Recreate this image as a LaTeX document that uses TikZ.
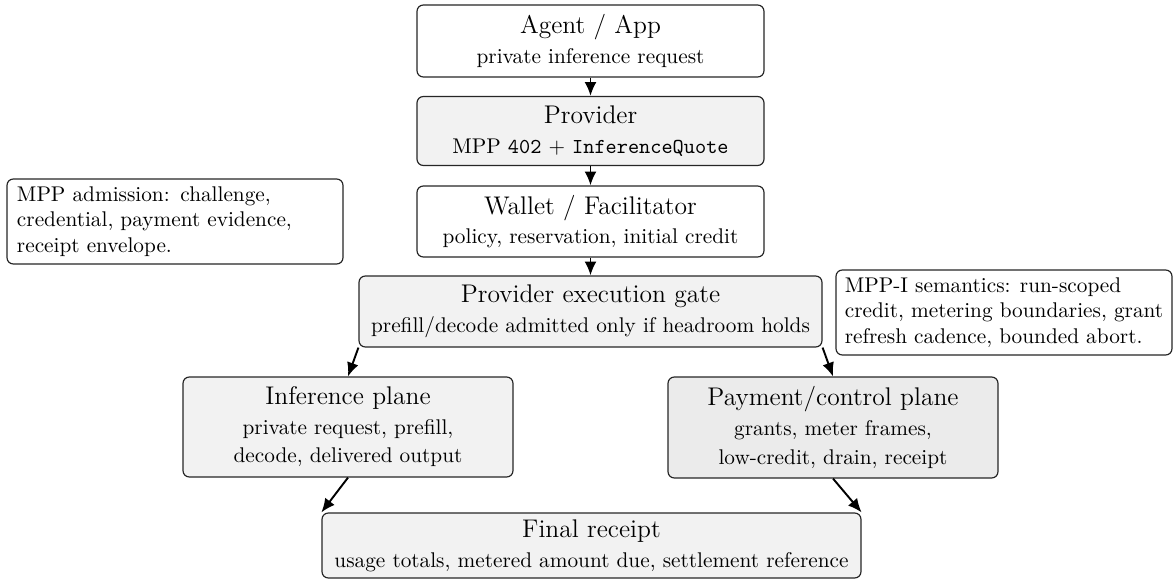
\documentclass[tikz,border=0pt]{standalone}
\usetikzlibrary{arrows.meta,calc}
\def\U{0.47pt}
\newcommand\ttl[1]{{\fontsize{12}{14}\selectfont #1}\\[2pt]}
\begin{document}
\begin{tikzpicture}[x=\U,y=-\U,
  box/.style={draw=black!85, line width=0.55pt, rounded corners=3pt, inner sep=0pt,
    align=center, font=\fontsize{10}{12}\selectfont},
  soft/.style={box, fill=black!5},
  softer/.style={box, fill=black!8},
  plain/.style={box, fill=white},
  note/.style={box, fill=white, align=left},
  flow/.style={-{Latex[length=6.5pt,width=5.6pt]}, line width=0.9pt},
]
\useasboundingbox (0,0) rectangle (1174,581);

% main chain
\node[plain, minimum width=347*\U, minimum height=72*\U] (agent) at (590.5,41)
  {\ttl{Agent / App}private inference request};
\node[soft, minimum width=347*\U, minimum height=69*\U] (provider) at (590.5,131)
  {\ttl{Provider}MPP \texttt{402} $+$ \texttt{InferenceQuote}};
\node[plain, minimum width=347*\U, minimum height=71*\U] (wallet) at (590.5,221.5)
  {\ttl{Wallet / Facilitator}policy, reservation, initial credit};
\node[soft, minimum width=463*\U, minimum height=71*\U] (gate) at (590.5,311.5)
  {\ttl{Provider execution gate}prefill/decode admitted only if headroom holds};

% the two planes
\node[soft, minimum width=330*\U, minimum height=100*\U] (inf) at (348,427)
  {\ttl{Inference plane}private request, prefill,\\[1.3pt]decode, delivered output};
\node[softer, minimum width=330*\U, minimum height=101*\U] (pay) at (833,427.5)
  {\ttl{Payment/control plane}grants, meter frames,\\[1.3pt]low-credit, drain, receipt};

\node[soft, minimum width=539*\U, minimum height=65*\U] (final) at (591.5,545.5)
  {\ttl{Final receipt}usage totals, metered amount due, settlement reference};

% side notes
\node[note, text width=316*\U, minimum width=336*\U, minimum height=85*\U] (admit) at (175,221.5)
  {MPP admission: challenge,\\credential, payment evidence,\\receipt envelope.};
\node[note, minimum width=336*\U, minimum height=85*\U] (sem) at (1004,312.5)
  {MPP-I semantics: run-scoped\\credit, metering boundaries, grant\\refresh cadence, bounded abort.};

% connectors
\draw[flow] (agent) -- (provider);
\draw[flow] (provider) -- (wallet);
\draw[flow] (wallet) -- (gate);
\draw[flow] (gate.south west) -- (inf.north);
\draw[flow] (gate.south east) -- (pay.north);
\draw[flow] (inf.south) -- (final.north west);
\draw[flow] (pay.south) -- (final.north east);
\end{tikzpicture}
\end{document}
